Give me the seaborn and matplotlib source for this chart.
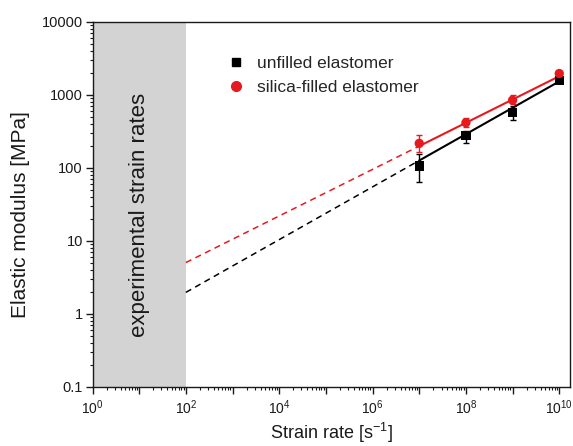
import numpy as np
import pandas as pd
import matplotlib
matplotlib.use("Agg")
import matplotlib.pyplot as plt
from matplotlib.ticker import LogLocator, FixedLocator, FixedFormatter, NullFormatter
from matplotlib.lines import Line2D
import seaborn as sns

# ---- data ----
strain_rate = [1e7, 1e8, 1e9, 1e10]
unfilled_E = [105, 277, 575, 1580]
unfilled_lo = [64, 218, 450, 1480]
unfilled_hi = [152, 317, 690, 1680]
silica_E = [215, 413, 840, 1950]
silica_lo = [162, 355, 740, 1850]
silica_hi = [277, 473, 985, 2060]

# power-law fit lines (value at 1e2 and 1e10)
fit_x = [1e2, 1e10]
unfilled_fit = [1.95, 1520]
silica_fit = [5.0, 1790]

series_names = ["unfilled elastomer", "silica-filled elastomer"]
y_tick_vals = [0.1, 1, 10, 100, 1000, 10000]
y_tick_labels = ["0.1", "1", "10", "100", "1000", "10000"]
x_tick_vals = [1e0, 1e2, 1e4, 1e6, 1e8, 1e10]
x_tick_labels = [r"$10^{0}$", r"$10^{2}$", r"$10^{4}$", r"$10^{6}$", r"$10^{8}$", r"$10^{10}$"]

sns.set_theme(style="white")
plt.rcParams["font.family"] = ["Liberation Sans", "DejaVu Sans"]
plt.rcParams["mathtext.fontset"] = "custom"
plt.rcParams["mathtext.rm"] = "Liberation Sans"
plt.rcParams["mathtext.it"] = "Liberation Sans"

fig = plt.figure(figsize=(5.73, 4.46), dpi=100)
ax = fig.add_axes([92.5 / 573, 1 - 386.5 / 446, (570 - 92.5) / 573, (386.5 - 21.7) / 446])

ax.set_xscale("log")
ax.set_yscale("log")
ax.set_xlim(1, 10 ** 10.23)
ax.set_ylim(0.1, 10000)

# experimental region
ax.axvspan(1, 1e2, color="#d3d3d3", lw=0, zorder=0)
ax.text(np.sqrt(1e2), 10 ** 1.35, "experimental strain rates", rotation=90,
        ha="center", va="center", fontsize=16, color="#1a1a1a")

def powerlaw(x, xs, ys):
    b = np.log10(ys[1] / ys[0]) / np.log10(xs[1] / xs[0])
    return ys[0] * (np.asarray(x) / xs[0]) ** b

colors = ["#000000", "#e8191e"]
fits = [unfilled_fit, silica_fit]
for c, f in zip(colors, fits):
    dash_df = pd.DataFrame({"x": [fit_x[0], strain_rate[0]],
                            "y": powerlaw([fit_x[0], strain_rate[0]], fit_x, f)})
    sns.lineplot(data=dash_df, x="x", y="y", ax=ax, color=c, lw=1.1,
                 linestyle=(0, (4, 3)), zorder=2)
    solid_df = pd.DataFrame({"x": [strain_rate[0], fit_x[1]],
                             "y": powerlaw([strain_rate[0], fit_x[1]], fit_x, f)})
    sns.lineplot(data=solid_df, x="x", y="y", ax=ax, color=c, lw=1.5, zorder=2)

# error bars
for E, lo, hi, c in [(unfilled_E, unfilled_lo, unfilled_hi, colors[0]),
                     (silica_E, silica_lo, silica_hi, colors[1])]:
    E = np.array(E); lo = np.array(lo); hi = np.array(hi)
    ax.errorbar(strain_rate, E, yerr=[E - lo, hi - E], fmt="none", ecolor=c,
                elinewidth=1.0, capsize=2.2, capthick=1.0, zorder=3)

df = pd.DataFrame({
    "rate": strain_rate * 2,
    "E": unfilled_E + silica_E,
    "series": [series_names[0]] * 4 + [series_names[1]] * 4,
})
sns.scatterplot(data=df, x="rate", y="E", hue="series", style="series",
                palette=dict(zip(series_names, colors)),
                markers={series_names[0]: "s", series_names[1]: "o"},
                s=45, edgecolor="none", ax=ax, zorder=4, legend=False)

# legend
handles = [Line2D([], [], ls="none", marker="s", color=colors[0], markersize=6),
           Line2D([], [], ls="none", marker="o", color=colors[1], markersize=7)]
ax.legend(handles, series_names, loc="upper left", bbox_to_anchor=(0.265, 0.925),
          frameon=False, fontsize=12.5, handletextpad=0.6, labelspacing=0.5,
          handlelength=1.2, borderaxespad=0)

# ticks
ax.xaxis.set_major_locator(LogLocator(base=10, numticks=20))
ax.xaxis.set_minor_locator(LogLocator(base=10, subs=np.arange(2, 10), numticks=20))
ax.xaxis.set_major_formatter(NullFormatter())
ax.xaxis.set_minor_formatter(NullFormatter())
for v, lab in zip(x_tick_vals, x_tick_labels):
    ax.text(v, -0.032, lab, transform=ax.get_xaxis_transform(), ha="center",
            va="top", fontsize=10, color="#1a1a1a")

ax.yaxis.set_major_locator(FixedLocator(y_tick_vals))
ax.yaxis.set_major_formatter(FixedFormatter(y_tick_labels))
ax.yaxis.set_minor_locator(LogLocator(base=10, subs=np.arange(2, 10), numticks=20))
ax.yaxis.set_minor_formatter(NullFormatter())

ax.tick_params(axis="both", which="major", direction="out", length=5, width=1,
               color="#1a1a1a", labelsize=10.5, labelcolor="#1a1a1a",
               bottom=True, left=True, top=False, right=False)
ax.tick_params(axis="both", which="minor", direction="out", length=2.5, width=0.8,
               color="#1a1a1a", bottom=True, left=True, top=False, right=False)
ax.tick_params(axis="y", which="major", pad=2)

for s in ax.spines.values():
    s.set_color("#1a1a1a")
    s.set_linewidth(1.0)

ax.set_xlabel("Strain rate [s$^{-1}$]", fontsize=13, color="#1a1a1a")
ax.xaxis.set_label_coords(0.5, -0.093, transform=ax.transAxes)
ax.xaxis.label.set_va("top")
ax.set_ylabel("Elastic modulus [MPa]", fontsize=15, color="#1a1a1a")
ax.yaxis.set_label_coords(-0.13, 0.47, transform=ax.transAxes)

fig.savefig("out.png", dpi=100)
